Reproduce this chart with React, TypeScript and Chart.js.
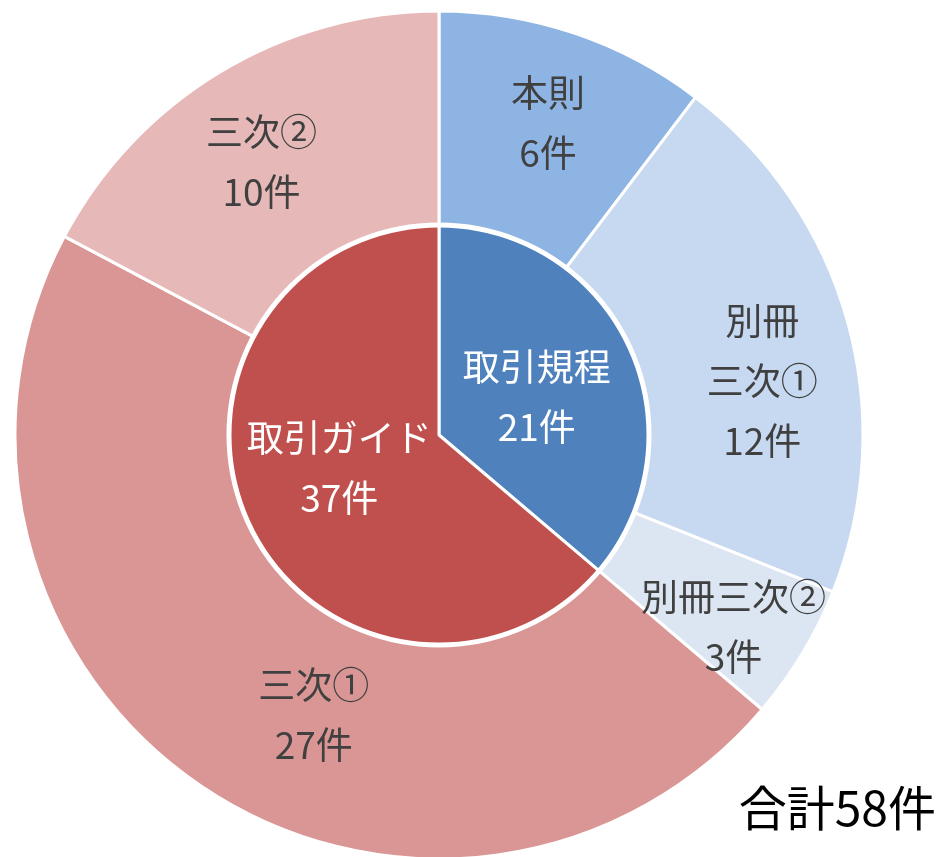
import React, { useEffect, useRef } from "react";
import { Chart, registerables } from "chart.js";

Chart.register(...registerables);

// Outer ring
const outerLabels = ["本則", "別冊\n三次①", "別冊三次②", "三次①", "三次②"];
const outerValues = [6, 12, 3, 27, 10];
const outerColors = ["#8EB4E3", "#C6D9F1", "#DCE6F2", "#D99694", "#E6B9B8"];
const outerAngleShift = [0.6, 6, 2, -10, -2];
const outerRadialFrac = [0.565, 0.55, 0.66, 0.45, 0.54];

// Inner pie
const innerLabels = ["取引規程", "取引ガイド"];
const innerValues = [21, 37];
const innerColors = ["#4F81BD", "#C0504D"];
const innerAngleShift = [3.5, 6.5];
const innerRadialFrac = [0.5, 0.5];

const totalText = "合計58件";
const unit = "件";

const FONT = '"Noto Sans CJK JP", "Noto Sans", sans-serif';

const labelPlugin = {
  id: "ringLabels",
  afterDatasetsDraw(chart: any) {
    const ctx = chart.ctx;
    const innerMeta = chart.getDatasetMeta(1);
    const outerMeta = chart.getDatasetMeta(0);
    const a0 = innerMeta.data[0];
    // white separator circle between rings
    ctx.save();
    ctx.beginPath();
    ctx.arc(a0.x, a0.y, a0.outerRadius, 0, Math.PI * 2);
    ctx.strokeStyle = "#FFFFFF";
    ctx.lineWidth = 5;
    ctx.stroke();
    ctx.restore();

    const drawSet = (meta: any, labels: string[], values: number[], shifts: number[], fracs: number[], color: string) => {
      meta.data.forEach((arc: any, i: number) => {
        const mid = (arc.startAngle + arc.endAngle) / 2 + (shifts[i] * Math.PI) / 180;
        const r = arc.innerRadius + (arc.outerRadius - arc.innerRadius) * fracs[i];
        const x = arc.x + Math.cos(mid) * r;
        const y = arc.y + Math.sin(mid) * r;
        const lines = labels[i].split("\n").concat([values[i] + unit]);
        const lh = 60;
        ctx.save();
        ctx.font = `37px ${FONT}`;
        ctx.fillStyle = color;
        ctx.textAlign = "center";
        ctx.textBaseline = "middle";
        lines.forEach((ln, k) => {
          ctx.fillText(ln, x, y + (k - (lines.length - 1) / 2) * lh);
        });
        ctx.restore();
      });
    };
    drawSet(outerMeta, outerLabels, outerValues, outerAngleShift, outerRadialFrac, "#404040");
    drawSet(innerMeta, innerLabels, innerValues, innerAngleShift, innerRadialFrac, "#FFFFFF");

    ctx.save();
    ctx.font = `48px ${FONT}`;
    ctx.fillStyle = "#000000";
    ctx.textAlign = "right";
    ctx.textBaseline = "middle";
    ctx.fillText(totalText, 936, 808);
    ctx.restore();
  },
};

export default function App() {
  const ref = useRef<HTMLCanvasElement>(null);
  useEffect(() => {
    if (!ref.current) return;
    const chart = new Chart(ref.current, {
      type: "doughnut",
      data: {
        labels: outerLabels,
        datasets: [
          {
            data: outerValues,
            backgroundColor: outerColors,
            borderColor: "#FFFFFF",
            borderWidth: 3,
            weight: 214,
          },
          {
            data: innerValues,
            backgroundColor: innerColors,
            borderColor: "#FFFFFF",
            borderWidth: 3,
            weight: 210,
          },
        ],
      },
      options: {
        responsive: false,
        animation: false,
        cutout: 0,
        radius: 424,
        layout: { padding: { left: 0, right: 65, top: 13, bottom: 0 } },
        plugins: {
          legend: { display: false },
          tooltip: { enabled: false },
        },
      } as any,
      plugins: [labelPlugin],
    });
    return () => chart.destroy();
  }, []);
  return (
    <div style={{ position: "fixed", left: 0, top: 0, width: 943, height: 857, background: "#fff" }}>
      <canvas ref={ref} width={943} height={857} style={{ display: "block" }} />
    </div>
  );
}
